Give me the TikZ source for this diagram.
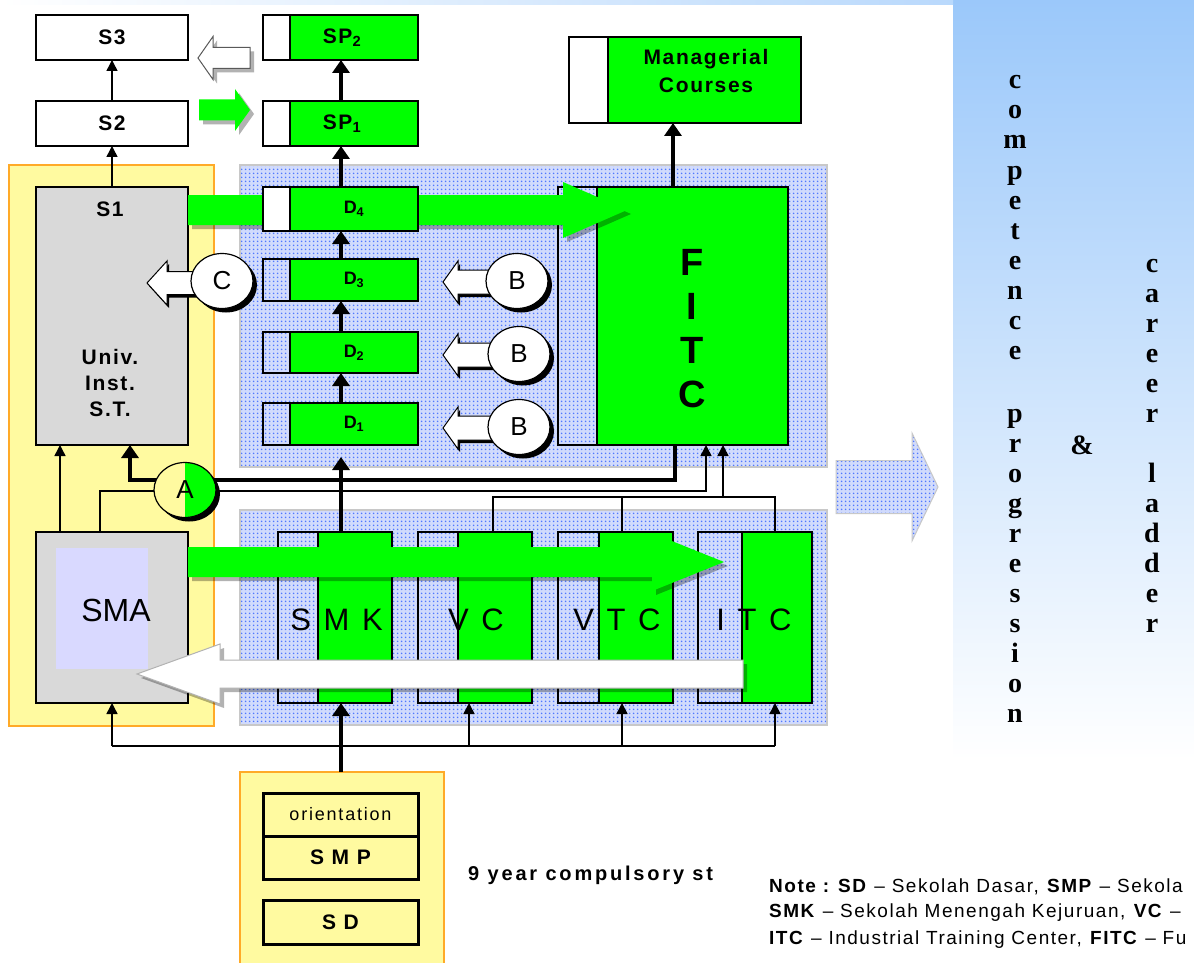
\documentclass[tikz,border=0pt]{standalone}
\usepackage{fontspec}
\setmainfont{Liberation Sans}
\newfontfamily\lblfont{Liberation Sans}[LetterSpace=8]
\newfontfamily\ninefont{Liberation Sans}[LetterSpace=14]
\newfontfamily\notefont{Liberation Sans}[LetterSpace=8]
\newfontfamily\orifont{Liberation Sans}[LetterSpace=10]
\newfontfamily\bigfont{Liberation Sans}[LetterSpace=13]
\newfontfamily\vfont{Liberation Serif}
\usetikzlibrary{arrows.meta,calc,shapes.geometric,patterns.meta,shadows}
\definecolor{ygreen}{RGB}{0,255,0}
\definecolor{pyellow}{RGB}{255,250,160}
\definecolor{porange}{RGB}{255,170,40}
\definecolor{boxgray}{RGB}{217,217,217}
\definecolor{lav}{RGB}{217,217,255}
\definecolor{dotblue}{RGB}{80,120,255}
\definecolor{panelbg}{RGB}{208,218,252}
\definecolor{skyblue}{RGB}{155,200,250}
\definecolor{panelline}{RGB}{200,200,200}
\tikzdeclarepattern{name=bdots, type=colored,
  bounding box={(0pt,0pt) and (4pt,4pt)},
  tile size={(4pt,4pt)},
  code={\fill[dotblue] (2pt,2pt) circle (1.0pt);}}
\newcommand{\blkarrow}[6]{%
  \path[#1] ($(#2)+(0,-#4)$) -- ($(#3)+({-1*(#6)},-#4)$) -- ($(#3)+({-1*(#6)},-#5)$) -- (#3)
    -- ($(#3)+({-1*(#6)},#5)$) -- ($(#3)+({-1*(#6)},#4)$) -- ($(#2)+(0,#4)$) -- cycle;}
\begin{document}
\begin{tikzpicture}[x=1pt, y=-1pt,
  box/.style={draw=black, line width=1.8pt, inner sep=0pt, outer sep=0pt},
  lpart/.style={box, preaction={fill=panelbg}, pattern=bdots},
  lbl/.style={font=\lblfont\bfseries\fontsize{21}{26}\selectfont, inner sep=0pt, align=center},
  dlbl/.style={font=\lblfont\bfseries\fontsize{18}{20}\selectfont, inner sep=0pt},
  ypanel/.style={draw=porange, line width=1.5pt, fill=pyellow, inner sep=0pt, outer sep=0pt},
  bpanel/.style={draw=panelline, line width=1.8pt, preaction={fill=panelbg}, pattern=bdots, inner sep=0pt, outer sep=0pt},
  thinarr/.style={line width=1.5pt, -{Triangle[length=11pt,width=11pt]}},
  thinln/.style={line width=1.5pt},
  thickarr/.style={line width=3.5pt, -{Triangle[length=13pt,width=17pt]}},
  thickln/.style={line width=3.5pt},
  circ/.style={ellipse, draw=black, line width=1.2pt, fill=white, minimum width=62pt, minimum height=55pt, inner sep=0pt, font=\fontsize{26}{26}\selectfont, drop shadow={shadow xshift=4pt, shadow yshift=-4pt, fill=black, opacity=1}},
  big/.style={font=\bigfont\fontsize{31}{31}\selectfont, inner sep=0pt},
  vt/.style={font=\vfont\bfseries\fontsize{28}{30}\selectfont, inner sep=0pt, anchor=base},
  shd/.style={fill=#1, transform canvas={shift={(4pt,-4pt)}}},
  box3/.style={draw=black, line width=3pt, fill=pyellow, inner sep=0pt, outer sep=0pt}
]
\useasboundingbox (0,0) rectangle (1194,963);
\fill[white] (0,0) rectangle (1194,963);
\shade[top color=skyblue, bottom color=white] (953,0) rectangle (1194,760);
\shade[left color=white, right color=skyblue!70] (0,0) rectangle (953,5);

% panels
\node[ypanel, minimum width=205, minimum height=561] (LeftP) at (111.5,445.5) {};
\node[bpanel, minimum width=587, minimum height=302] (UpP) at (533.5,316) {};
\node[bpanel, minimum width=587, minimum height=215] (LowP) at (533.5,617.5) {};
\node[ypanel, minimum width=204, minimum height=200] (Base) at (342,872) {};

% top boxes
\node[box, fill=white, minimum width=152, minimum height=45, lbl] (S3) at (112,37.5) {S3};
\node[box, fill=white, minimum width=152, minimum height=45, lbl] (S2) at (112,123.5) {S2};
\node[box, fill=ygreen, minimum width=155, minimum height=45] (SP2) at (340.5,37.5) {};
\node[box, fill=white, minimum width=27, minimum height=45, anchor=west] (SP2l) at (SP2.west) {};
\node[lbl] (SP2t) at (342,37.5) {SP\textsubscript{2}};
\node[box, fill=ygreen, minimum width=155, minimum height=45] (SP1) at (340.5,123.5) {};
\node[box, fill=white, minimum width=27, minimum height=45, anchor=west] (SP1l) at (SP1.west) {};
\node[lbl] (SP1t) at (342,123.5) {SP\textsubscript{1}};
\node[box, fill=ygreen, minimum width=232, minimum height=86] (MC) at (685,80) {};
\node[box, fill=white, minimum width=39, minimum height=86, anchor=west] (MCl) at (MC.west) {};
\node[lbl, font=\lblfont\bfseries\fontsize{21}{28}\selectfont] (MCt) at (706,71) {Managerial\\Courses};

% S1 and SMA
\node[box, fill=boxgray, minimum width=152, minimum height=258] (S1) at (112,316) {};
\node[lbl] (S1t) at (110,209) {S1};
\node[lbl] (S1u) at (110,383) {Univ.\\Inst.\\S.T.};
\node[box, fill=boxgray, minimum width=152, minimum height=171] (SMA) at (112,617.5) {};
\node[fill=lav, minimum width=92, minimum height=121, inner sep=0pt] (SMAin) at (102,608.5) {};
\node[font=\fontsize{32}{32}\selectfont, inner sep=0pt] (SMAt) at (116,610) {SMA};

% FITC
\node[box, fill=ygreen, minimum width=230, minimum height=258] (FITC) at (673,316) {};
\node[lpart, minimum width=39, minimum height=258, anchor=west] (FITCl) at (FITC.west) {};
\node[font=\bfseries\fontsize{38}{44}\selectfont, align=center, inner sep=0pt] (FITCt) at (692,329) {F\\I\\T\\C};

% big green arrow S1 -> FITC
\coordinate (g1t) at (188,210);
\coordinate (g1h) at (627,210);
\blkarrow{fill=black, fill opacity=0.3, transform canvas={shift={(4pt,-4pt)}}}{g1t}{g1h}{15}{28}{64}
\blkarrow{fill=ygreen}{g1t}{g1h}{15}{28}{64}

% D boxes
\node[box, fill=ygreen, minimum width=155, minimum height=44] (D4) at (340.5,209) {};
\node[box, fill=white, minimum width=27, minimum height=44, anchor=west] (D4l) at (D4.west) {};
\node[dlbl] (D4t) at (354,209) {D\textsubscript{4}};
\node[box, fill=ygreen, minimum width=155, minimum height=42] (D3) at (340.5,280) {};
\node[lpart, minimum width=27, minimum height=42, anchor=west] (D3l) at (D3.west) {};
\node[dlbl] (D3t) at (354,280) {D\textsubscript{3}};
\node[box, fill=ygreen, minimum width=155, minimum height=41] (D2) at (340.5,352.5) {};
\node[lpart, minimum width=27, minimum height=41, anchor=west] (D2l) at (D2.west) {};
\node[dlbl] (D2t) at (354,352.5) {D\textsubscript{2}};
\node[box, fill=ygreen, minimum width=155, minimum height=42] (D1) at (340.5,424) {};
\node[lpart, minimum width=27, minimum height=42, anchor=west] (D1l) at (D1.west) {};
\node[dlbl] (D1t) at (354,424) {D\textsubscript{1}};

% lower boxes
\node[box, fill=ygreen, minimum width=114, minimum height=171] (SMK) at (335,617.5) {};
\node[lpart, minimum width=40, minimum height=171, anchor=west] (SMKl) at (SMK.west) {};
\node[box, fill=ygreen, minimum width=114, minimum height=171] (VC) at (475,617.5) {};
\node[lpart, minimum width=40, minimum height=171, anchor=west] (VCl) at (VC.west) {};
\node[box, fill=ygreen, minimum width=115, minimum height=171] (VTC) at (615.5,617.5) {};
\node[lpart, minimum width=41, minimum height=171, anchor=west] (VTCl) at (VTC.west) {};
\node[box, fill=ygreen, minimum width=114, minimum height=171] (ITC) at (755,617.5) {};
\node[lpart, minimum width=44, minimum height=171, anchor=west] (ITCl) at (ITC.west) {};
\node[big] (SMKt) at (336.5,620) {S M K};
\node[big] (VCt) at (476,620) {V C};
\node[big] (VTCt) at (617,620) {V T C};
\node[big] (ITCt) at (754,620) {I T C};

% big arrows in the lower panel
\coordinate (g2t) at (188,562);
\coordinate (g2h) at (724,562);
\blkarrow{fill=black, fill opacity=0.3, transform canvas={shift={(4pt,-4pt)}}}{g2t}{g2h}{15}{29}{72}
\blkarrow{fill=ygreen}{g2t}{g2h}{15}{29}{72}
\coordinate (w2t) at (743,674);
\coordinate (w2h) at (137,674);
\blkarrow{fill=black, fill opacity=0.3, transform canvas={shift={(4pt,-4pt)}}}{w2t}{w2h}{14}{30}{-83}
\blkarrow{fill=white, draw=gray!60, line width=1pt}{w2t}{w2h}{14}{30}{-83}

% small block arrows at the top
\coordinate (wa1) at (250,58);
\coordinate (wa2) at (198,58);
\blkarrow{shd=gray!60}{wa1}{wa2}{10.5}{21.5}{-15}
\blkarrow{fill=white, draw=gray!70!black, line width=1pt}{wa1}{wa2}{10.5}{21.5}{-15}
\coordinate (ga1) at (199,110);
\coordinate (ga2) at (250,110);
\blkarrow{shd=gray!60}{ga1}{ga2}{10.5}{21}{15}
\blkarrow{fill=ygreen}{ga1}{ga2}{10.5}{21}{15}

% bottom base boxes
\node[box3, minimum width=155, minimum height=43, font=\orifont\fontsize{18}{20}\selectfont] (Ori) at (340.5,814.5) {orientation};
\node[box3, minimum width=155, minimum height=43, lbl] (SMP) at (340.5,857.5) {S M P};
\node[box3, minimum width=155, minimum height=44, lbl] (SD) at (340.5,922) {S D};

% connectors
\draw[thinarr] (S1.north) -- (S2.south);
\draw[thinarr] (S2.north) -- (S3.south);
\coordinate (bx) at (341,0);
\draw[thickarr] (D4.north -| bx) -- (SP1.south -| bx);
\draw[thickarr] (SP1.north -| bx) -- (SP2.south -| bx);
\draw[thickarr] (D1.north -| bx) -- (D2.south -| bx);
\draw[thickarr] (D2.north -| bx) -- (D3.south -| bx);
\draw[thickarr] (D3.north -| bx) -- (D4.south -| bx);
\coordinate (mx) at (673,0);
\draw[thickarr] (FITC.north -| mx) -- (MC.south -| mx);
\draw[thickarr, shorten >=12pt] (SMK.north -| bx) -- (D1.south -| bx);
\draw[thickarr] (Base.north -| bx) -- (SMK.south -| bx);

\coordinate (k1) at (675,480);
\coordinate (k2) at (130,480);
\draw[thickarr] (FITC.south -| k1) -- (k1) -- (k2) -- (S1.south -| k2);
\coordinate (t1) at (100,491);
\coordinate (t2) at (706,491);
\draw[thinarr] (SMA.north -| t1) -- (t1) -- (t2) -- (FITC.south -| t2);
\coordinate (t3) at (60,0);
\draw[thinarr] (SMA.north -| t3) -- (S1.south -| t3);
\coordinate (j1) at (493,497);
\coordinate (j2) at (622,497);
\coordinate (j3) at (775,497);
\coordinate (j4) at (723,497);
\draw[thinln] (VC.north -| j1) -- (j1) -- (j3) -- (ITC.north -| j3);
\draw[thinln] (VTC.north -| j2) -- (j2);
\draw[thinarr] (j4) -- (FITC.south -| j4);
\coordinate (b0) at (112,746);
\coordinate (b1) at (469,746);
\coordinate (b2) at (622,746);
\coordinate (b3) at (775,746);
\draw[thinln] (b0) -- (b3);
\draw[thinarr] (b0) -- (SMA.south);
\draw[thinarr] (b1) -- (VC.south -| b1);
\draw[thinarr] (b2) -- (VTC.south -| b2);
\draw[thinarr] (b3) -- (ITC.south -| b3);

% C and B hollow arrows with circles
\coordinate (cA1) at (205,283);
\coordinate (cA2) at (147,283);
\blkarrow{fill=black, transform canvas={shift={(2pt,-3pt)}}}{cA1}{cA2}{11.5}{22}{-20}
\blkarrow{fill=white, draw=black, line width=1pt}{cA1}{cA2}{11.5}{22}{-20}
\node[circ] (C) at (222,281) {C};
\foreach \yy/\nm in {282/1,355/2,428/3}{
  \coordinate (bA\nm) at (500,\yy);
  \coordinate (bH\nm) at (443,\yy);
  \blkarrow{fill=black, transform canvas={shift={(2pt,-3pt)}}}{bA\nm}{bH\nm}{12}{21}{-15}
  \blkarrow{fill=white, draw=black, line width=1pt}{bA\nm}{bH\nm}{12}{21}{-15}
}
\node[circ] (B1) at (517,281) {B};
\node[circ] (B2) at (519,354) {B};
\node[circ] (B3) at (519,427) {B};
\node[circ, fill=pyellow, path picture={\fill[ygreen] (path picture bounding box.north) rectangle (path picture bounding box.south east);}] (A) at (185,490) {A};

% dotted arrow to the right text
\coordinate (da1) at (836,487);
\coordinate (da2) at (938,487);
\blkarrow{preaction={fill=panelbg}, pattern=bdots, draw=panelline, line width=1pt}{da1}{da2}{26.5}{54}{26}

% vertical words
\foreach \l [count=\i] in {c,o,m,p,e,t,e,n,c,e}
  \node[vt] (cA\i) at (1015,{82+30*(\i-1)+7}) {\l};
\foreach \l [count=\i] in {p,r,o,g,r,e,s,s,i,o,n}
  \node[vt] (cB\i) at (1015,{415+30*(\i-1)+7}) {\l};
\foreach \l [count=\i] in {c,a,r,e,e,r}
  \node[vt] (cC\i) at (1152,{265+30*(\i-1)+7}) {\l};
\foreach \l [count=\i] in {l,a,d,d,e,r}
  \node[vt] (cD\i) at (1152,{475+30*(\i-1)+7}) {\l};
\node[vt] (amp) at (1082,454) {\&};

% texts at the bottom
\node[font=\ninefont\bfseries\fontsize{20}{20}\selectfont, anchor=base west, inner sep=0pt] (nine) at (468,880) {9 year compulsory st};
\begin{scope}
\clip (0,0) rectangle (1194,963);
\node[font=\notefont\fontsize{19}{20}\selectfont, anchor=base west, inner sep=0pt] (N1) at (769,892) {\textbf{Note : SD} – Sekolah Dasar, \textbf{SMP} – Sekola};
\node[font=\notefont\fontsize{19}{20}\selectfont, anchor=base west, inner sep=0pt] (N2) at (769,917) {\textbf{SMK} – Sekolah Menengah Kejuruan, \textbf{VC} –};
\node[font=\notefont\fontsize{19}{20}\selectfont, anchor=base west, inner sep=0pt] (N3) at (769,944) {\textbf{ITC} – Industrial Training Center, \textbf{FITC} – Fu};
\end{scope}
\end{tikzpicture}
\end{document}
